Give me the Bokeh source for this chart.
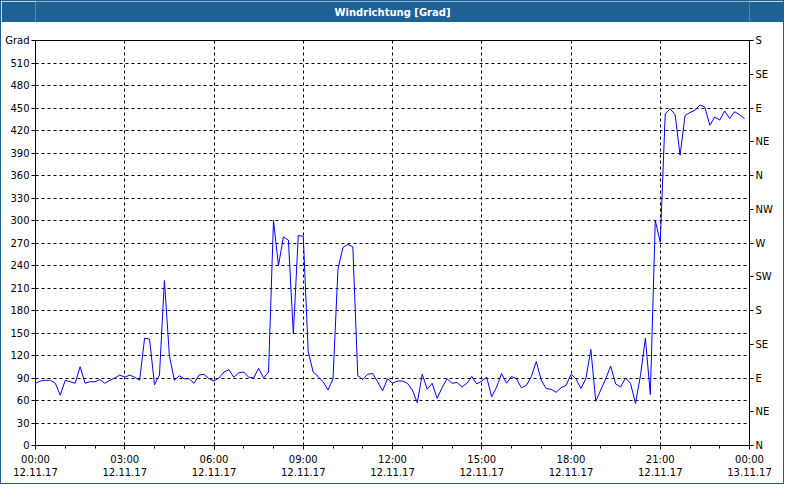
import pandas as pd
from bokeh.plotting import figure
from bokeh.models import (LinearAxis, FixedTicker, DatetimeTickFormatter, Label,
                          Range1d, ColumnDataSource)
from bokeh.layouts import column
from bokeh.embed import file_html
from bokeh.resources import INLINE

# ---------------- data ----------------
title_text = "Windrichtung [Grad]"
start = "2017-11-12 00:00"
sample_minutes = 10

direction = [
    83, 86, 87, 87, 83, 67, 87, 85, 83, 105,
    83, 85, 85, 88, 83, 87, 90, 94, 91, 94,
    91, 87, 143, 142, 81, 94, 220, 120, 87, 93,
    89, 89, 83, 94, 95, 89, 86, 90, 98, 101,
    91, 97, 98, 91, 90, 103, 90, 98, 300, 240,
    278, 274, 149, 280, 279, 125, 98, 92, 85, 74,
    89, 235, 264, 268, 265, 93, 88, 95, 96, 85,
    73, 89, 83, 86, 86, 83, 74, 57, 95, 75,
    83, 63, 77, 89, 83, 84, 78, 83, 92, 82,
    86, 91, 65, 78, 96, 83, 92, 89, 77, 80,
    92, 112, 87, 76, 75, 71, 77, 80, 95, 89,
    76, 89, 128, 59, 74, 89, 106, 82, 78, 90,
    83, 56, 93, 143, 68, 300, 271, 442, 449, 441,
    387, 440, 444, 447, 454, 451, 427, 438, 434, 446,
    436, 445, 441, 436,
]

major_hours = [0, 3, 6, 9, 12, 15, 18, 21, 24]
minor_hours = list(range(0, 25))
grad_ticks = list(range(0, 541, 30))
grad_labels = [str(v) for v in grad_ticks[:-1]] + ["Grad"]
compass_ticks = list(range(0, 541, 45))
compass_labels = ["N", "NE", "E", "SE", "S", "SW", "W", "NW",
                  "N", "NE", "E", "SE", "S"]

# ---------------- build ----------------
t0 = pd.Timestamp(start)
times = pd.date_range(t0, periods=len(direction), freq=f"{sample_minutes}min")
src = ColumnDataSource(dict(t=times, d=direction))


def ms(h):
    return (t0 + pd.Timedelta(hours=h)).value // 10**6


major_ms = [ms(h) for h in major_hours]
minor_ms = [ms(h) for h in minor_hours]

FONT = "DejaVu Sans"
BAR = "#1d6195"
W = 782

bar = figure(width=W, height=21, toolbar_location=None, output_backend="svg",
             x_range=Range1d(0, 1), y_range=Range1d(0, 1),
             x_axis_location=None, y_axis_location=None, min_border=0)
bar.grid.visible = False
bar.outline_line_color = None
bar.background_fill_color = BAR
bar.border_fill_color = BAR
bar.add_layout(Label(x=0.5, y=0.5, text=title_text, text_align="center",
                     text_baseline="middle", text_color="white",
                     text_font=FONT, text_font_size="10px",
                     text_font_style="bold"))

p = figure(width=W, height=461, toolbar_location=None, output_backend="svg",
           x_axis_type="datetime",
           x_range=Range1d(major_ms[0], major_ms[-1]),
           y_range=Range1d(0, 540),
           min_border_left=34, min_border_right=34,
           min_border_top=18, min_border_bottom=38)
p.background_fill_color = "white"
p.border_fill_color = "white"
p.outline_line_color = "black"
p.outline_line_alpha = 1.0

p.line(x="t", y="d", source=src, line_color="#0000ff", line_width=1)

xt = FixedTicker(ticks=major_ms, minor_ticks=minor_ms)
fmt = "%H:%M\n%d.%m.%y"
xa = p.xaxis[0]
xa.ticker = xt
xa.formatter = DatetimeTickFormatter(
    microseconds=fmt, milliseconds=fmt, seconds=fmt, minsec=fmt,
    minutes=fmt, hourmin=fmt, hours=fmt, days=fmt, months=fmt, years=fmt)

ya = p.yaxis[0]
ya.ticker = FixedTicker(ticks=grad_ticks)
ya.major_label_overrides = {v: s for v, s in zip(grad_ticks, grad_labels)}

ra = LinearAxis(ticker=FixedTicker(ticks=compass_ticks),
                major_label_overrides={v: s for v, s in zip(compass_ticks, compass_labels)})
p.add_layout(ra, "right")

for ax in (xa, ya, ra):
    ax.axis_line_color = "black"
    ax.major_tick_line_color = "black"
    ax.minor_tick_line_color = "black"
    ax.major_tick_in = 0
    ax.major_tick_out = 4
    ax.minor_tick_in = 0
    ax.minor_tick_out = 3
    ax.major_label_text_font = FONT
    ax.major_label_text_font_size = "10px"
    ax.major_label_text_color = "black"
    ax.major_label_standoff = 2
ya.minor_tick_line_color = None
ra.minor_tick_line_color = None
xa.major_label_standoff = 4

for g, tk in ((p.xgrid, xt), (p.ygrid, FixedTicker(ticks=grad_ticks))):
    g.ticker = tk
    g.grid_line_color = "black"
    g.grid_line_alpha = 1.0
    g.grid_line_dash = "3 3"
    g.grid_line_width = 1

layout = column(bar, p, spacing=0, styles={"border": f"1px solid {BAR}"})
open("out.html", "w").write(file_html(layout, INLINE))
